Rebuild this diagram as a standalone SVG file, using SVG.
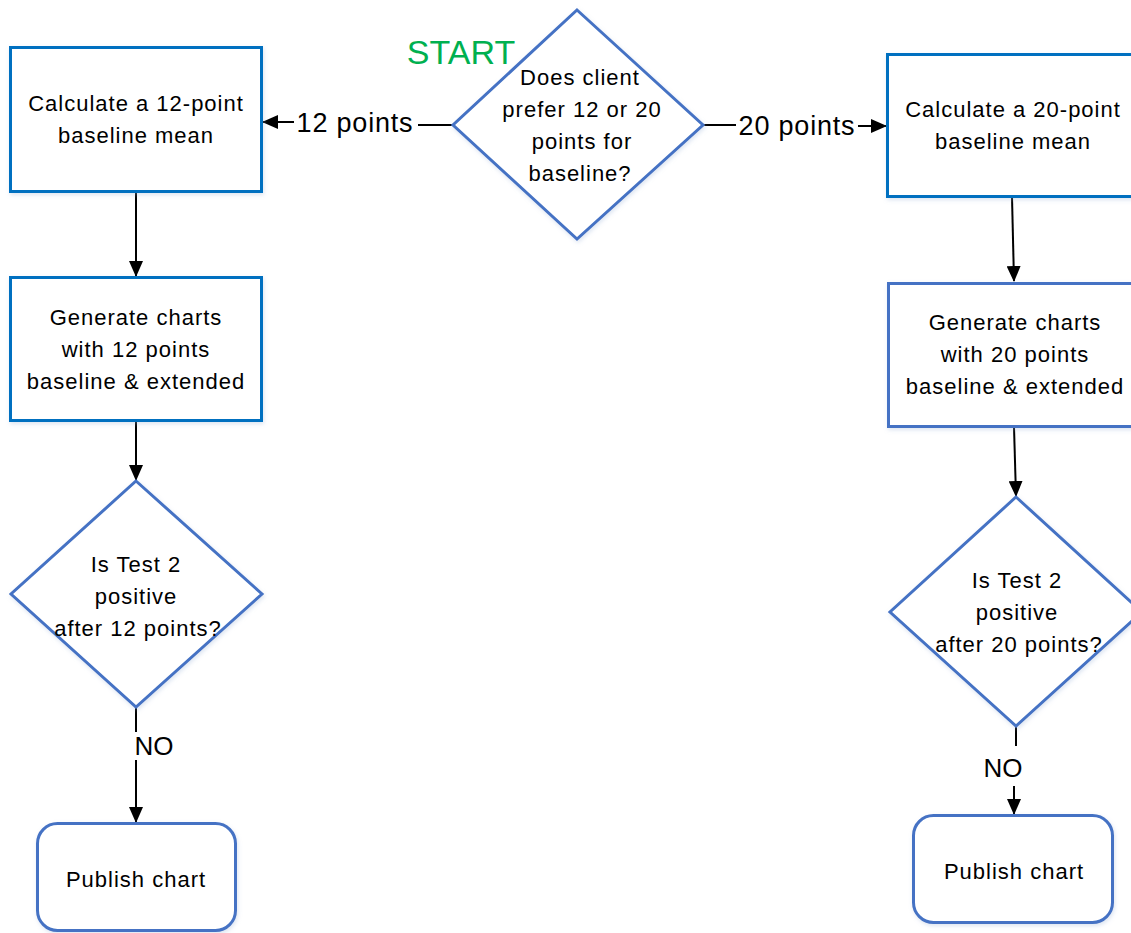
<svg xmlns="http://www.w3.org/2000/svg" width="1131" height="933" viewBox="0 0 1131 933">
<style>
.box{fill:#fff;stroke:#0070C0;stroke-width:3}
.box2{fill:#fff;stroke:#4472C4;stroke-width:3}
.dia{fill:#fff;stroke:#4472C4;stroke-width:3}
.t{font-family:"Liberation Sans",Arial,sans-serif;font-size:22px;letter-spacing:1px;fill:#000;text-anchor:middle}
.lbl{font-family:"Liberation Sans",Arial,sans-serif;font-size:27px;letter-spacing:0.8px;fill:#000;text-anchor:middle}
.no{font-family:"Liberation Sans",Arial,sans-serif;font-size:26px;fill:#000;text-anchor:middle}
.c{fill:none;stroke:#000;stroke-width:2}
.shd{filter:url(#sh)}
</style>
<defs>
<marker id="ah" markerUnits="userSpaceOnUse" markerWidth="16" markerHeight="14" refX="15" refY="7" orient="auto">
<path d="M0,0 L16,7 L0,14 Z" fill="#000"/>
</marker>
<filter id="sh" x="-10%" y="-10%" width="120%" height="120%">
<feDropShadow dx="1" dy="2" stdDeviation="2" flood-color="#9bb3d6" flood-opacity="0.35"/>
</filter>
</defs>
<rect width="1131" height="933" fill="#fff"/>

<g id="connectors">
<path class="c" d="M453,125 L418,125"/>
<path class="c" d="M294,122 L263,122" marker-end="url(#ah)"/>
<path class="c" d="M703,125 L736,125"/>
<path class="c" d="M858,126 L886,126" marker-end="url(#ah)"/>
<path class="c" d="M136,192 L136,276" marker-end="url(#ah)"/>
<path class="c" d="M136,421 L136,480" marker-end="url(#ah)"/>
<path class="c" d="M136,707 L136,732"/>
<path class="c" d="M136,760 L136,822" marker-end="url(#ah)"/>
<path class="c" d="M1012,197 L1014,281" marker-end="url(#ah)"/>
<path class="c" d="M1014,427 L1016,496" marker-end="url(#ah)"/>
<path class="c" d="M1016,726 L1016,746"/>
<path class="c" d="M1014,786 L1014,814" marker-end="url(#ah)"/>
<text class="lbl" x="355" y="132">12 points</text>
<text class="lbl" x="797" y="135">20 points</text>
<text class="no" x="154" y="755">NO</text>
<text class="no" x="1003" y="777">NO</text>
</g>

<g id="start">
<text x="461" y="64" font-family="Liberation Sans, Arial, sans-serif" font-size="34" fill="#00B050" text-anchor="middle">START</text>
</g>

<g id="decision-main">
<polygon class="dia shd" points="577,10 703,125 577,239 453,125"/>
<text class="t" x="580" y="85">Does client</text>
<text class="t" x="582" y="117">prefer 12 or 20</text>
<text class="t" x="582" y="149">points for</text>
<text class="t" x="580" y="181">baseline?</text>
</g>

<g id="calc12">
<rect class="box shd" x="10.5" y="47.5" width="251" height="144"/>
<text class="t" x="136" y="111">Calculate a 12-point</text>
<text class="t" x="136" y="143">baseline mean</text>
</g>

<g id="calc20">
<rect class="box shd" x="887.5" y="54.5" width="251" height="142"/>
<text class="t" x="1013" y="117">Calculate a 20-point</text>
<text class="t" x="1013" y="149">baseline mean</text>
</g>

<g id="gen12">
<rect class="box shd" x="10.5" y="277.5" width="251" height="143"/>
<text class="t" x="136" y="325">Generate charts</text>
<text class="t" x="136" y="357">with 12 points</text>
<text class="t" x="136" y="389">baseline &amp; extended</text>
</g>

<g id="gen20">
<rect class="box2 shd" x="888.5" y="283.5" width="251" height="143"/>
<text class="t" x="1015" y="330">Generate charts</text>
<text class="t" x="1015" y="362">with 20 points</text>
<text class="t" x="1015" y="394">baseline &amp; extended</text>
</g>

<g id="test12">
<polygon class="dia shd" points="136,481 262,594 136,707 11,594"/>
<text class="t" x="136" y="572">Is Test 2</text>
<text class="t" x="136" y="604">positive</text>
<text class="t" x="138" y="636">after 12 points?</text>
</g>

<g id="test20">
<polygon class="dia shd" points="1016,497 1142,612 1016,726 890,612"/>
<text class="t" x="1017" y="588">Is Test 2</text>
<text class="t" x="1017" y="620">positive</text>
<text class="t" x="1019" y="652">after 20 points?</text>
</g>

<g id="publish12">
<rect class="box2 shd" x="37.5" y="823.5" width="198" height="107" rx="20" ry="20"/>
<text class="t" x="136" y="887">Publish chart</text>
</g>

<g id="publish20">
<rect class="box2 shd" x="913.5" y="815.5" width="199" height="107" rx="20" ry="20"/>
<text class="t" x="1014" y="879">Publish chart</text>
</g>
</svg>
